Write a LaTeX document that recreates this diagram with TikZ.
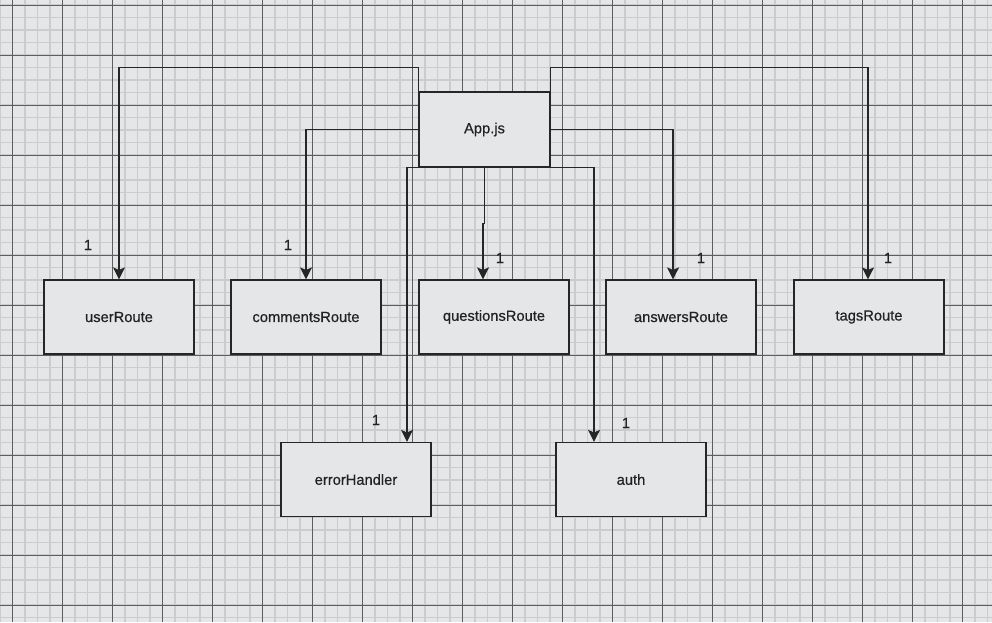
\documentclass[tikz,border=0pt]{standalone}
\usepackage{fontspec}
\setmainfont{Liberation Sans}[BoldFont=Liberation Sans, BoldFeatures={FakeBold=0.6}]
\usetikzlibrary{arrows.meta}
\definecolor{bgc}{HTML}{E4E6E7}
\definecolor{minorc}{HTML}{CACCCD}
\definecolor{majorc}{HTML}{5E5E5E}
\definecolor{linec}{HTML}{262626}
\definecolor{textc}{HTML}{222222}
\tikzset{
  box/.style={draw=linec, line width=1.2pt, fill=bgc, minimum width=150pt, minimum height=74pt, inner sep=0pt, font=\fontsize{14.7pt}{16pt}\selectfont\bfseries, text=textc},
  conn/.style={draw=linec, line width=1.2pt, -{Stealth[length=12pt,width=12pt,inset=2.5pt]}},
  mult/.style={font=\fontsize{14.7pt}{16pt}\selectfont\bfseries, text=textc, inner sep=0pt}
}
\begin{document}
\begin{tikzpicture}[x=1pt,y=-1pt]
\fill[bgc] (0,0) rectangle (992,622);
\useasboundingbox (0,0) rectangle (992,622);
% minor grid
\foreach \i in {0,...,79} {\draw[minorc, line width=1.4pt] ({12.5*\i},0) -- ({12.5*\i},622);}
\foreach \j in {0,...,49} {\draw[minorc, line width=1.4pt] (0,{5+12.5*\j}) -- (992,{5+12.5*\j});}
% major grid
\foreach \i in {0,...,19} {\draw[majorc, line width=1pt] ({12.5+50*\i},0) -- ({12.5+50*\i},622);}
\foreach \j in {0,...,12} {\draw[majorc, line width=1pt] (0,{5+50*\j}) -- (992,{5+50*\j});}
% nodes
\node[box, minimum width=131pt, minimum height=75pt] (app) at (484.5,129.5) {App.js};
\node[box] (user) at (119,317) {userRoute};
\node[box] (comments) at (306,317) {commentsRoute};
\node[box] (questions) at (494,317) {questionsRoute};
\node[box] (answers) at (681,317) {answersRoute};
\node[box] (tags) at (869,317) {tagsRoute};
\node[box] (err) at (356,479.5) {errorHandler};
\node[box] (auth) at (631,479.5) {auth};
% connectors
\draw[conn] (app.north west) -- ++(0,-24) -| (user.north);
\draw[conn] (app.west) -| (comments.north);
\draw[conn] (app.south) -- ++(0,56) -| ([xshift=-11pt]questions.north);
\draw[conn] (app.east) -| ([xshift=-8pt]answers.north);
\draw[conn] (app.north east) -- ++(0,-24) -| ([xshift=-1pt]tags.north);
\draw[conn] (app.south west) -| ([xshift=51pt]err.north);
\draw[conn] (app.south east) -| ([xshift=-37pt]auth.north);
% multiplicities
\node[mult] (m1) at (88,245) {1};
\node[mult] (m2) at (288,245) {1};
\node[mult] (m3) at (500,258) {1};
\node[mult] (m4) at (701,258) {1};
\node[mult] (m5) at (888,258) {1};
\node[mult] (m6) at (376,420) {1};
\node[mult] (m7) at (626,423) {1};
\end{tikzpicture}
\end{document}
